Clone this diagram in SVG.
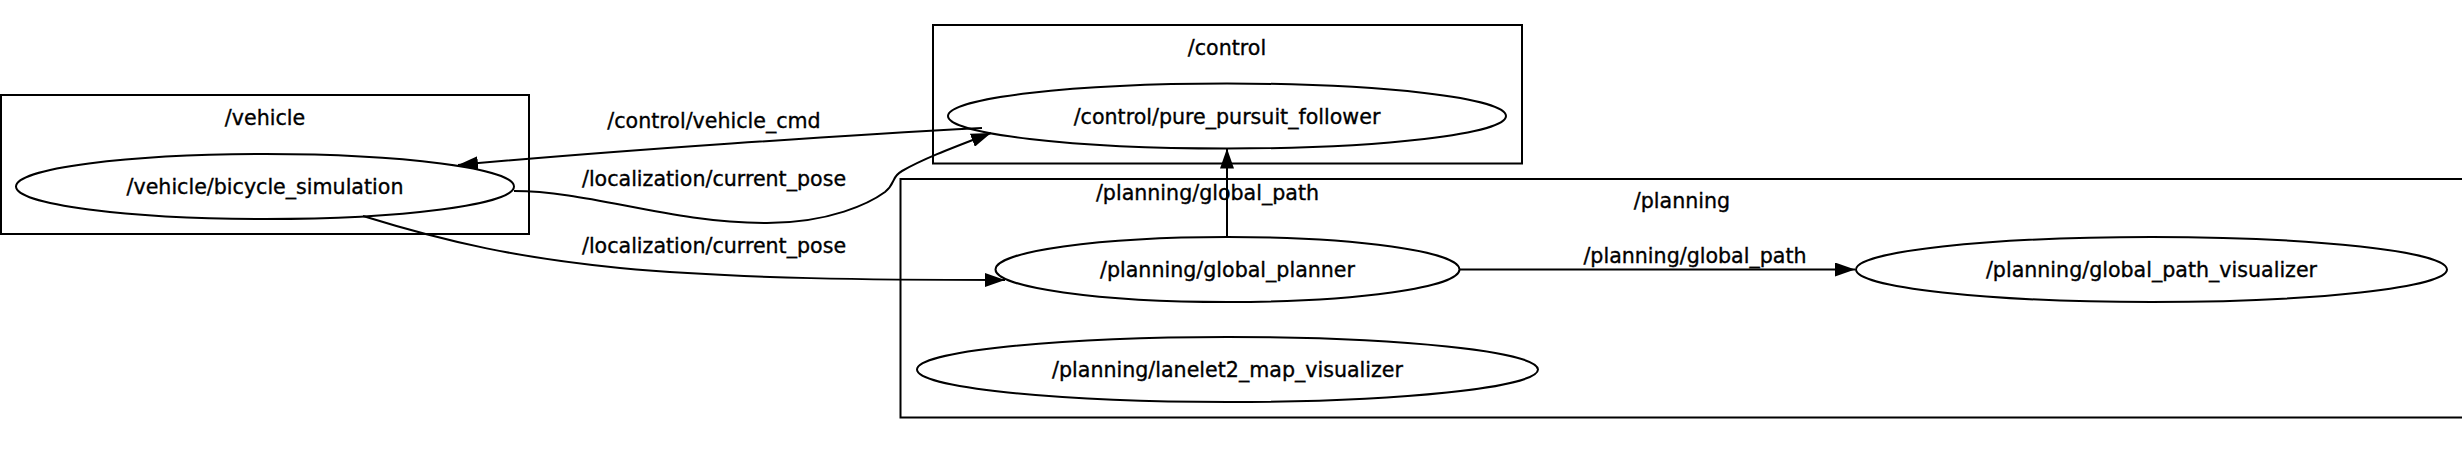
<svg xmlns="http://www.w3.org/2000/svg" width="2462" height="449" viewBox="0 0 2462 449">
<style>
text{font-family:"DejaVu Sans","Liberation Sans",sans-serif;font-size:20.6px;fill:#000;stroke:#000;stroke-width:0.35;text-anchor:middle}
.cl{fill:none;stroke:#000;stroke-width:2}
.nd{fill:none;stroke:#000;stroke-width:2}
.ed{fill:none;stroke:#000;stroke-width:2;marker-end:url(#ah)}
</style>
<defs>
<marker id="ah" markerWidth="20" markerHeight="14" refX="20" refY="7" orient="auto" markerUnits="userSpaceOnUse">
<path d="M0,0 L20,7 L0,14 z" fill="#000"/>
</marker>
</defs>
<rect width="2462" height="449" fill="#fff"/>
<g id="cluster_vehicle">
<rect class="cl" x="1" y="95" width="528" height="139"/>
<text x="265" y="125">/vehicle</text>
</g>
<g id="cluster_control">
<rect class="cl" x="933" y="25" width="589" height="138.5"/>
<text x="1227" y="55">/control</text>
</g>
<g id="cluster_planning">
<rect class="cl" x="900.5" y="179" width="1563" height="238.5"/>
<text x="1682" y="208">/planning</text>
</g>
<g id="connectors">
<path class="ed" d="M982,128 C850,135 620,150 458,165"/>
<path class="ed" d="M514,191 C590,191 670,223 767,223 C830,223 870,203 885,192 C896,183 891,177 902,171 C925,158 952,148 991,133"/>
<path class="ed" d="M363,216 C450,243 520,258 620,268 C740,279 880,280 1005,280"/>
<path class="ed" d="M1227,237 L1227,148.5"/>
<path class="ed" d="M1459.5,269.5 L1855,269.5"/>
<text x="714" y="128">/control/vehicle_cmd</text>
<text x="714" y="186">/localization/current_pose</text>
<text x="714" y="253">/localization/current_pose</text>
<text x="1207.5" y="200">/planning/global_path</text>
<text x="1695" y="263">/planning/global_path</text>
</g>
<g id="node_bicycle_simulation">
<ellipse class="nd" cx="265" cy="186.5" rx="249" ry="32.5"/>
<text x="265" y="194">/vehicle/bicycle_simulation</text>
</g>
<g id="node_pure_pursuit_follower">
<ellipse class="nd" cx="1227" cy="116" rx="279" ry="32.5"/>
<text x="1227" y="123.5">/control/pure_pursuit_follower</text>
</g>
<g id="node_global_planner">
<ellipse class="nd" cx="1227.5" cy="269.5" rx="232" ry="32.5"/>
<text x="1227.5" y="277">/planning/global_planner</text>
</g>
<g id="node_global_path_visualizer">
<ellipse class="nd" cx="2151.5" cy="269.5" rx="295.5" ry="32.5"/>
<text x="2151.5" y="277">/planning/global_path_visualizer</text>
</g>
<g id="node_lanelet2_map_visualizer">
<ellipse class="nd" cx="1227.5" cy="369.5" rx="310.5" ry="32.5"/>
<text x="1227.5" y="377">/planning/lanelet2_map_visualizer</text>
</g>
</svg>
